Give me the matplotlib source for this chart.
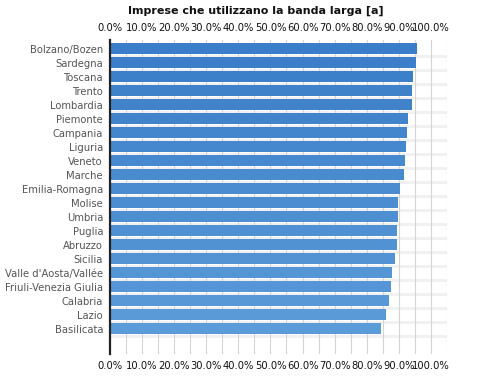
import numpy as np
import matplotlib.pyplot as plt
from matplotlib.colors import to_rgb

regions = ['Bolzano/Bozen', 'Sardegna', 'Toscana', 'Trento', 'Lombardia', 'Piemonte',
           'Campania', 'Liguria', 'Veneto', 'Marche', 'Emilia-Romagna', 'Molise',
           'Umbria', 'Puglia', 'Abruzzo', 'Sicilia', "Valle d'Aosta/Vallée",
           'Friuli-Venezia Giulia', 'Calabria', 'Lazio', 'Basilicata']
values = [95.8, 95.2, 94.4, 94.1, 94.1, 92.8, 92.5, 92.2, 91.9, 91.6, 90.3, 89.7,
          89.7, 89.4, 89.4, 88.8, 87.9, 87.6, 86.9, 86.0, 84.4]
tick_vals = np.arange(0, 101, 10)
tick_labels = ['%.1f%%' % v for v in tick_vals]

fig = plt.figure(figsize=(4.97, 3.76), dpi=100)
ax = fig.add_axes([0.2213, 0.0585, 0.678, 0.835])

y = np.arange(len(regions))
# slight top-to-bottom gradient on the bars
c_top = np.array(to_rgb('#3a7dc8'))
c_bot = np.array(to_rgb('#5b9bd8'))
cols = [tuple(c_top + (c_bot - c_top) * i / (len(regions) - 1)) for i in range(len(regions))]

for yy in y:
    ax.axhline(yy + 0.5, color='#f0f0f0', lw=2.0, zorder=0.5)
for gx in np.arange(5, 106, 5):
    ax.axvline(gx, color='#d4d4d4', lw=0.8, zorder=1)

ax.barh(y, values, height=0.77, color=cols, zorder=2)

ax.set_xlim(0, 105)
ax.set_ylim(len(regions) - 1 + 1.8, -0.62)
ax.set_yticks(y)
ax.set_yticklabels(regions, fontsize=7.2, color='#555555')
ax.set_xticks(tick_vals)
ax.set_xticklabels(tick_labels, fontsize=7.2, color='#111111')
ax.tick_params(axis='x', length=0, pad=5, top=True, labeltop=True)
ax.tick_params(axis='y', length=0, pad=5)

for s in ['top', 'right', 'bottom']:
    ax.spines[s].set_visible(False)
ax.spines['left'].set_color('#222222')
ax.spines['left'].set_linewidth(1.6)

fig.text(0.515, 0.972, 'Imprese che utilizzano la banda larga [a]', ha='center', va='center',
         fontsize=8, fontweight='bold', color='#111111')

fig.savefig('out.png', dpi=100)
